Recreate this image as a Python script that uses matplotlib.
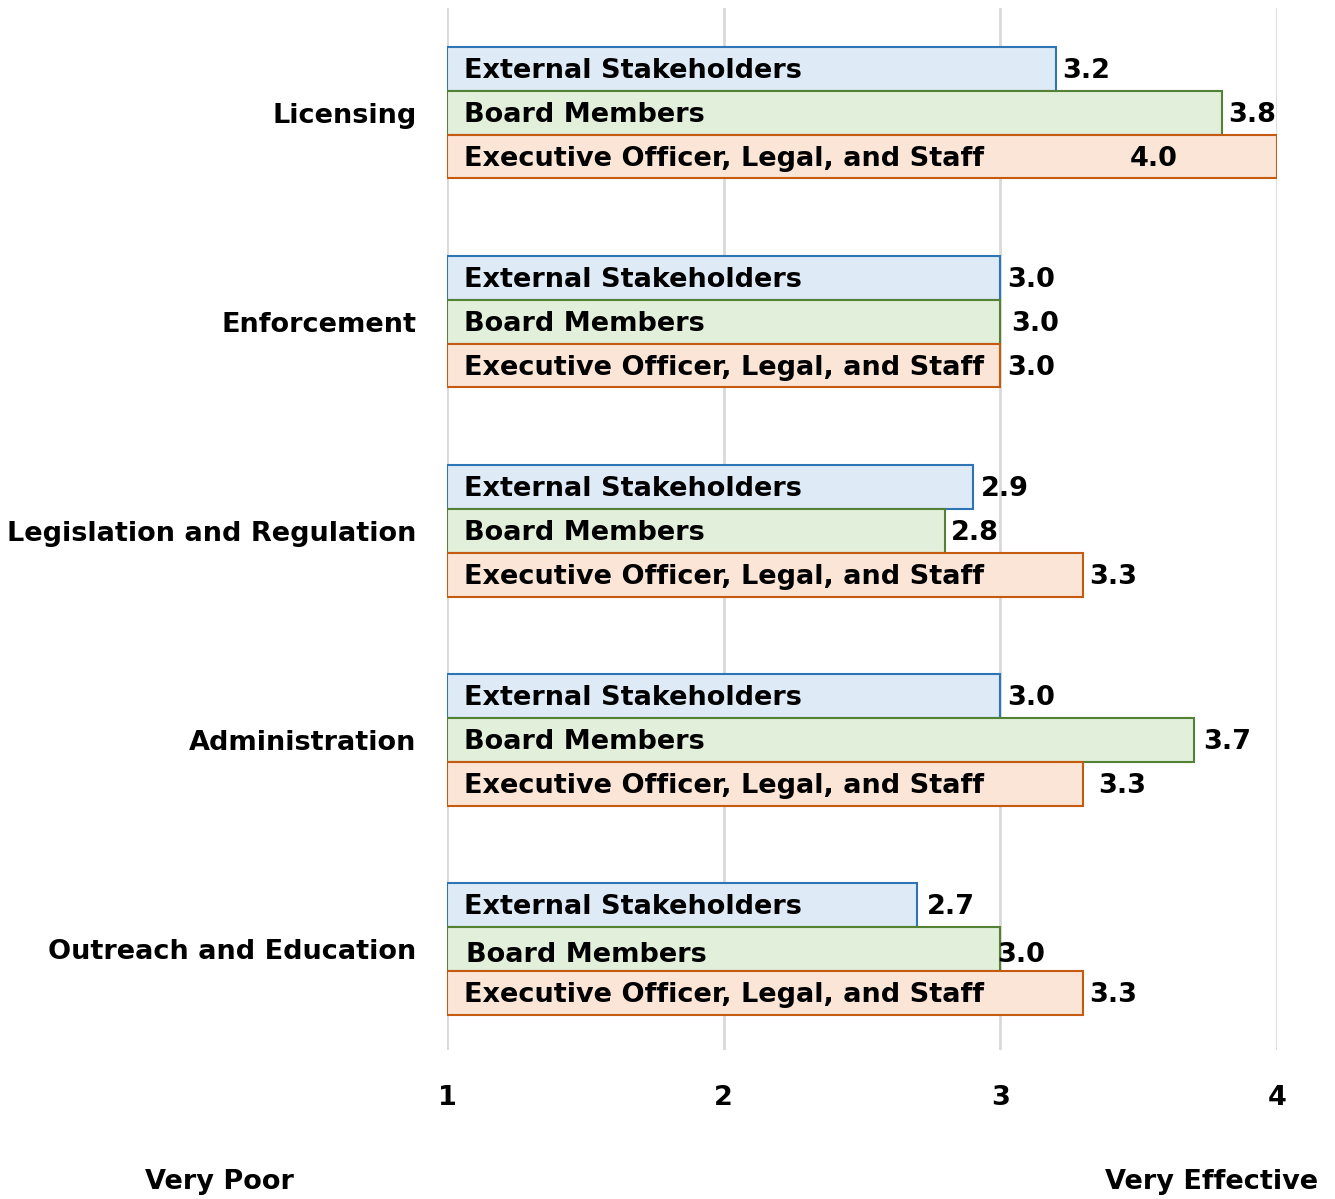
import matplotlib.pyplot as plt
import numpy as np

# data
categories = ['Licensing', 'Enforcement', 'Legislation and Regulation',
              'Administration', 'Outreach and Education']
series = ['External Stakeholders', 'Board Members', 'Executive Officer, Legal, and Staff']
external = [3.2, 3.0, 2.9, 3.0, 2.7]
board = [3.8, 3.0, 2.8, 3.7, 3.0]
executive = [4.0, 3.0, 3.3, 3.3, 3.3]
xticks = [1, 2, 3, 4]

fills = ['#DEEBF7', '#E2EFDA', '#FBE5D6']
edges = ['#2E75B6', '#548235', '#C55A11']

# label offsets in points (Excel places some labels a bit oddly)
label_dx = [[5, 5, -106], [5, 8, 5], [6, 4, 4], [5, 7, 11], [7, -2, 4]]

fs = 19.5
plt.rcParams['font.family'] = ['DejaVu Sans']
plt.rcParams['font.weight'] = 'bold'

fig = plt.figure(figsize=(13.35, 11.99), dpi=100)
ax = fig.add_axes([0.3348, 0.1243, 0.6217, 0.869])

y = np.arange(len(categories))
h = 0.209
values = [external, board, executive]
for i, vals in enumerate(values):
    pos = y + (i - 1) * h
    left = 1
    ax.barh(pos, np.array(vals) - left, left=left, height=h, color=fills[i],
            edgecolor=edges[i], linewidth=1.5, zorder=3)
    for j, v in enumerate(vals):
        # the outreach "Board Members" label sits a touch lower in the original
        dy = -4.5 if (i == 1 and j == 4) else -1.5
        dx = 14 if (i == 1 and j == 4) else 12
        ax.annotate(series[i], (1, pos[j]), xytext=(dx, dy),
                    textcoords='offset points', va='center', ha='left',
                    fontsize=fs, fontweight='bold', zorder=4)
        ax.annotate(f'{v:.1f}', (v, pos[j]), xytext=(label_dx[j][i], dy),
                    textcoords='offset points', va='center', ha='left',
                    fontsize=fs, fontweight='bold', zorder=4)

ax.set_xlim(1, 4)
ax.set_ylim(len(categories) - 1 + 0.483, -0.502)
ax.set_xticks(xticks)
ax.set_xticklabels([str(t) for t in xticks], fontsize=fs, fontweight='bold')
ax.tick_params(axis='x', length=0, pad=25)
ax.set_yticks(y)
ax.set_yticklabels(categories, fontsize=fs, fontweight='bold')
ax.tick_params(axis='y', length=0, pad=22)
ax.grid(axis='x', color='#D9D9D9', linewidth=2, zorder=0)
for s in ax.spines.values():
    s.set_visible(False)

fig.text(219 / 1335, 1 - 1182 / 1199, 'Very Poor', ha='center', va='center',
         fontsize=fs, fontweight='bold')
fig.text(1212 / 1335, 1 - 1182 / 1199, 'Very Effective', ha='center', va='center',
         fontsize=fs, fontweight='bold')

fig.savefig('out.png', dpi=100)
